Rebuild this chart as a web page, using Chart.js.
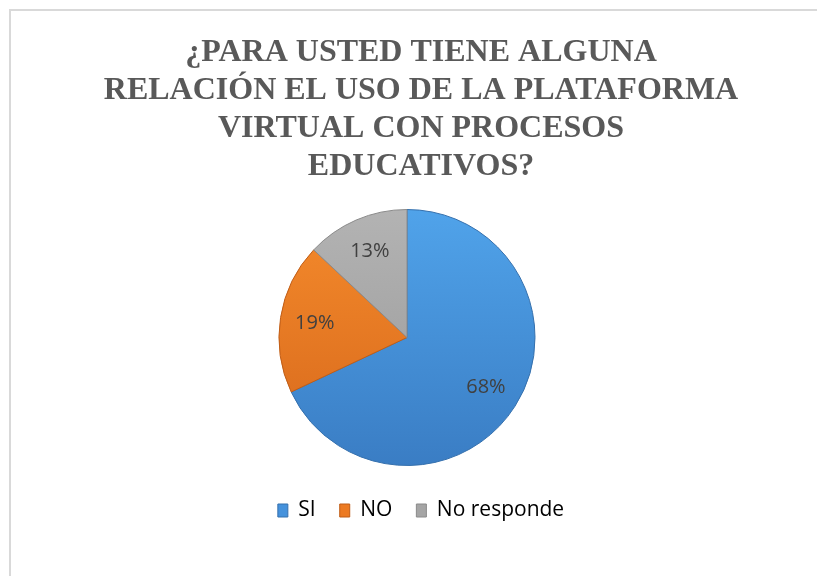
<!DOCTYPE html>
<html lang="es">
<head>
<meta charset="UTF-8">
<title>Plataforma virtual y procesos educativos</title>
<style>
  body { margin: 0; background: #fff; overflow: hidden; }
  #frame { position: absolute; left: 9px; top: 9px; width: 900px; height: 700px; border: 2px solid #d9d9d9; }
  #chart-container { position: absolute; left: 0; top: 0; width: 817px; height: 576px; }
</style>
</head>
<body>
<div id="frame"></div>
<div id="chart-container">
  <canvas id="pie-chart" width="817" height="576"></canvas>
</div>
<script src="https://cdn.jsdelivr.net/npm/chart.js"></script>
<script>
// data
const categories = ['SI', 'NO', 'No responde'];
const percentages = [68, 19, 13];
const titleLines = [
  '¿PARA USTED TIENE ALGUNA',
  'RELACIÓN EL USO DE LA PLATAFORMA',
  'VIRTUAL CON PROCESOS',
  'EDUCATIVOS?'
];

// colours: light at the top of the pie, darker at the bottom
const topColors = ['#50a3ea', '#f58b2c', '#b3b3b3'];
const bottomColors = ['#3a7dc4', '#d6671b', '#989898'];
const flatColors = ['#4592dc', '#ec7a22', '#a5a5a5'];
const rimColors = ['#3570ad', '#bf5d17', '#8a8a8a'];

const pieRadius = 128;

function sliceFill(ctx) {
  const i = ctx.dataIndex;
  const area = ctx.chart.chartArea;
  if (!area) return flatColors[i];
  const cy = (area.top + area.bottom) / 2;
  const g = ctx.chart.ctx.createLinearGradient(0, cy - pieRadius, 0, cy + pieRadius);
  g.addColorStop(0, topColors[i]);
  g.addColorStop(1, bottomColors[i]);
  return g;
}

// move the pie a little left of the title/legend centre, like the original
const shiftPie = {
  id: 'shiftPie',
  afterLayout(chart) {
    chart.chartArea.right -= 28;
    chart.chartArea.width -= 28;
  }
};

// percentage labels inside the slices
const sliceLabels = {
  id: 'sliceLabels',
  afterDatasetsDraw(chart) {
    const ctx = chart.ctx;
    const meta = chart.getDatasetMeta(0);
    ctx.save();
    ctx.font = '20px "Open Sans"';
    ctx.fillStyle = '#404040';
    ctx.textAlign = 'center';
    ctx.textBaseline = 'middle';
    meta.data.forEach((arc, i) => {
      const p = arc.getProps(['x', 'y', 'startAngle', 'endAngle', 'outerRadius'], true);
      const mid = (p.startAngle + p.endAngle) / 2;
      const r = p.outerRadius * 0.73;
      ctx.fillText(percentages[i] + '%', p.x + Math.cos(mid) * r, p.y + Math.sin(mid) * r);
    });
    ctx.restore();
  }
};

const pieChartCanvas = document.getElementById('pie-chart');

new Chart(pieChartCanvas, {
  type: 'pie',
  data: {
    labels: categories,
    datasets: [{
      data: percentages,
      backgroundColor: sliceFill,
      borderColor: rimColors,
      borderWidth: 1
    }]
  },
  options: {
    responsive: false,
    animation: false,
    devicePixelRatio: 1,
    radius: pieRadius,
    layout: { padding: { left: 25, right: 0, top: 0, bottom: 45 } },
    plugins: {
      title: {
        display: true,
        text: titleLines,
        color: '#595959',
        font: { family: '"Liberation Serif", "Times New Roman", serif', size: 32, weight: 'bold', lineHeight: 1.1875 },
        padding: { top: 34, bottom: 13 }
      },
      legend: {
        position: 'bottom',
        labels: {
          boxWidth: 10,
          boxHeight: 13,
          padding: 24,
          color: '#595959',
          font: { family: '"Open Sans"', size: 21 },
          generateLabels(chart) {
            return categories.map((c, i) => ({
              text: c,
              fillStyle: flatColors[i],
              strokeStyle: rimColors[i],
              lineWidth: 1,
              index: i,
              hidden: false
            }));
          }
        }
      },
      tooltip: { enabled: false }
    }
  },
  plugins: [shiftPie, sliceLabels]
});
</script>
</body>
</html>
